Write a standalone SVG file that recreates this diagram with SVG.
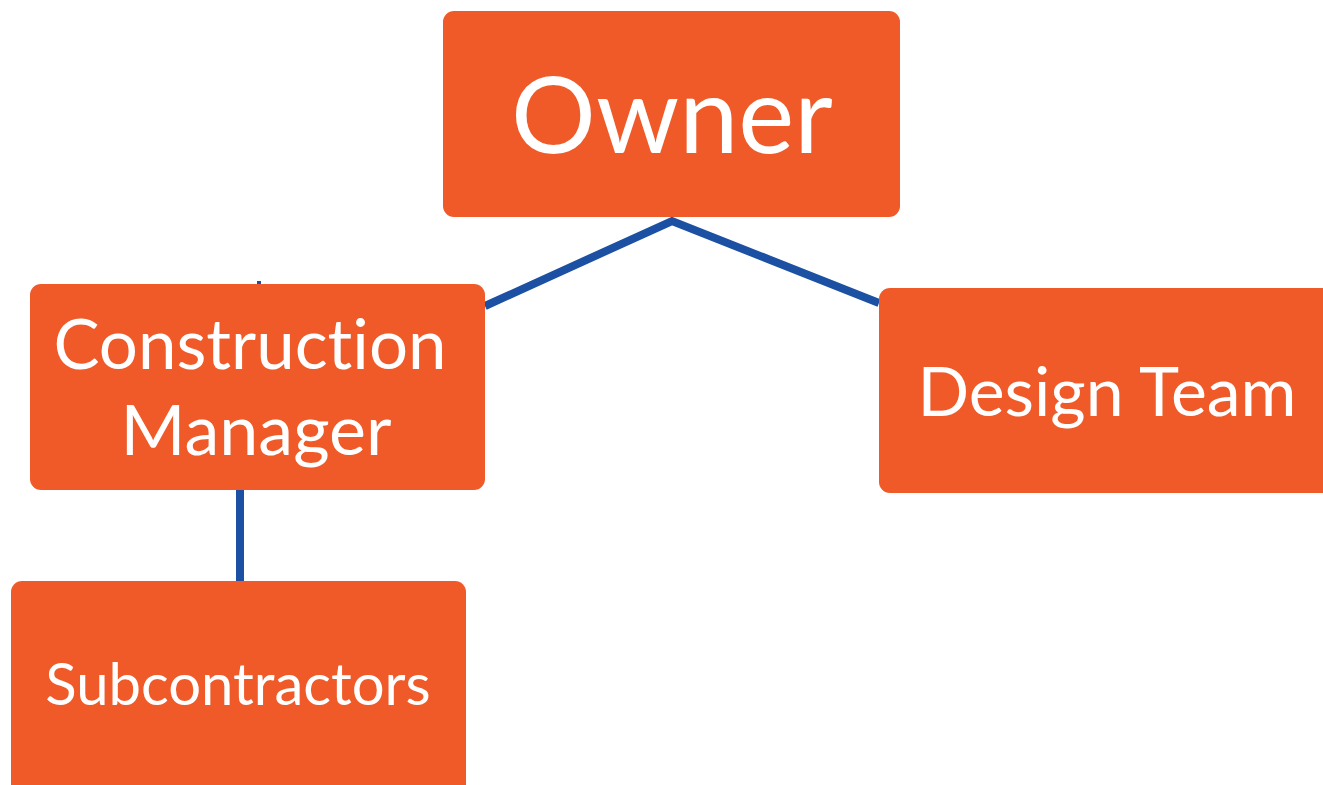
<svg xmlns="http://www.w3.org/2000/svg" width="1323" height="785" viewBox="0 0 1323 785">
<style>
.box{fill:#ef5a28;}
.lbl{fill:#ffffff;font-family:Lato,"Noto Sans",sans-serif;text-anchor:middle;font-variant-ligatures:none;font-feature-settings:"liga" 0;}
.conn{stroke:#1b50a2;fill:none;stroke-linecap:butt;}
</style>
<rect width="1323" height="785" fill="#ffffff"/>
<g id="connectors">
<polyline class="conn" stroke-width="8" points="485,306 672,221 879,303"/>
<line class="conn" stroke-width="8" x1="240" y1="488" x2="240" y2="583"/>
<line class="conn" stroke-width="4" x1="259" y1="281" x2="259" y2="286"/>
</g>
<g id="owner">
<rect class="box" x="443" y="11" width="457" height="206" rx="11"/>
<text class="lbl" x="672" y="153" font-size="106">Owner</text>
</g>
<g id="construction-manager">
<rect class="box" x="30" y="284" width="455" height="206" rx="11"/>
<text class="lbl" x="250" y="369" font-size="69">Construction</text>
<text class="lbl" x="256" y="455" font-size="70">Manager</text>
</g>
<g id="design-team">
<rect class="box" x="879" y="288" width="460" height="205" rx="11"/>
<text class="lbl" x="1107" y="416" font-size="68">Design Team</text>
</g>
<g id="subcontractors">
<rect class="box" x="11" y="581" width="455" height="220" rx="11"/>
<text class="lbl" x="238" y="705" font-size="58">Subcontractors</text>
</g>
</svg>
